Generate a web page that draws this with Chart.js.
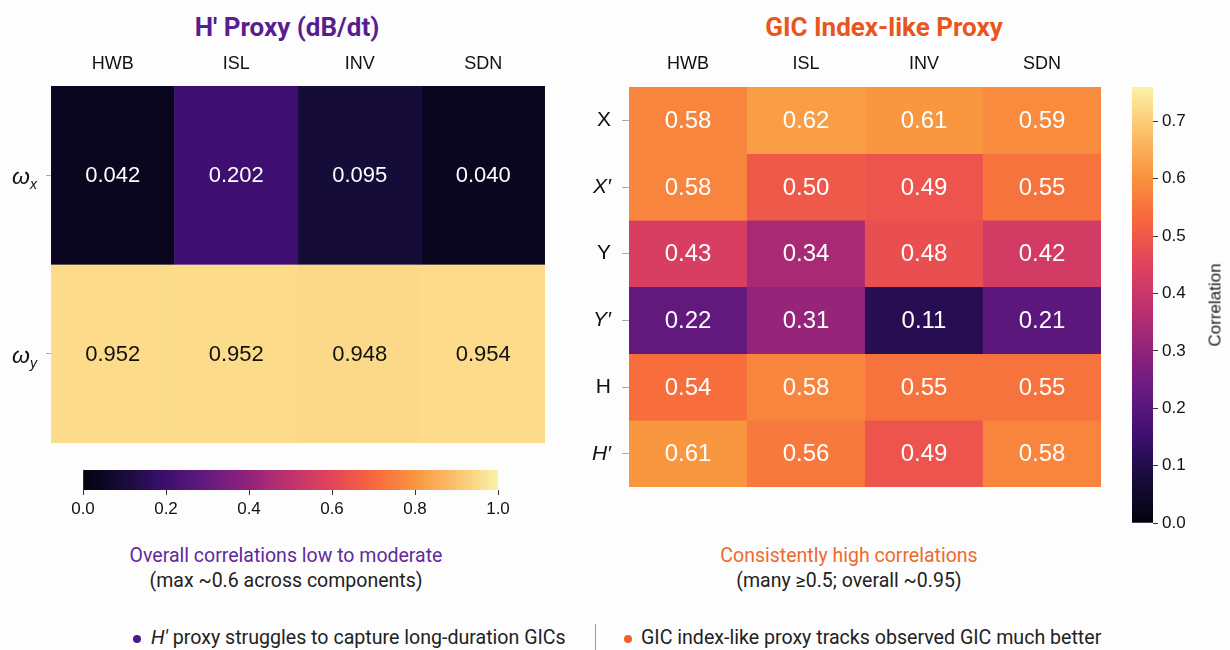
<!DOCTYPE html>
<html><head><meta charset="utf-8">
<script src="https://cdn.jsdelivr.net/npm/chart.js@4.4.1/dist/chart.umd.min.js"></script>
<style>
html,body{margin:0;padding:0;background:#fdfdfd;}
body{width:1230px;height:650px;position:relative;overflow:hidden;font-family:Roboto,'Noto Sans',sans-serif;color:#222;}
canvas{position:absolute;}
.t{position:absolute;white-space:nowrap;transform:translate(-50%,-50%);line-height:1;}
.l{position:absolute;white-space:nowrap;transform:translateY(-50%);line-height:1;font-size:19.6px;color:#222;}
.dot{position:absolute;width:8px;height:8px;border-radius:50%;transform:translate(-50%,-50%);}
</style></head><body>
<div class="t" style="left:287px;top:27px;font-weight:700;font-size:26px;color:#5a1d91;">H′ Proxy (dB/dt)</div>
<div class="t" style="left:884px;top:27px;font-weight:700;font-size:26px;color:#e8561e;">GIC Index-like Proxy</div>

<canvas id="hmL" width="570" height="420" style="left:0;top:40px;"></canvas>
<canvas id="cbL" width="470" height="70" style="left:60px;top:460px;"></canvas>
<canvas id="hmR" width="560" height="460" style="left:560px;top:40px;"></canvas>
<canvas id="cbR" width="120" height="470" style="left:1110px;top:70px;"></canvas>

<div class="t" style="left:1215px;top:305px;font-size:17px;font-family:'Liberation Sans',Arial,sans-serif;color:#1a1a1a;transform:translate(-50%,-50%) rotate(-90deg);">Correlation</div>

<div class="t" style="left:286px;top:556px;font-size:19.5px;color:#5e2a9e;">Overall correlations low to moderate</div>
<div class="t" style="left:286px;top:581px;font-size:19.5px;color:#222;">(max ~0.6 across components)</div>
<div class="t" style="left:849px;top:556px;font-size:19.5px;color:#ee6a2c;">Consistently high correlations</div>
<div class="t" style="left:849px;top:581px;font-size:19.5px;color:#222;">(many ≥0.5; overall ~0.95)</div>

<div class="dot" style="left:137px;top:639px;background:#4b1a8a;"></div>
<div class="l" style="left:151px;top:638px;"><i>H′</i> proxy struggles to capture long-duration GICs</div>
<div style="position:absolute;left:595px;top:624px;width:1px;height:26px;background:#999;"></div>
<div class="dot" style="left:628px;top:639px;background:#f2602a;"></div>
<div class="l" style="left:641px;top:638px;">GIC index-like proxy tracks observed GIC much better</div>

<script>
// ---- data ----
const leftCols = ['HWB', 'ISL', 'INV', 'SDN'];
const leftRowSubs = ['x', 'y'];
const leftVals = [
  [0.042, 0.202, 0.095, 0.040],
  [0.952, 0.952, 0.948, 0.954]
];
const rightCols = ['HWB', 'ISL', 'INV', 'SDN'];
const rightRows = ['X', 'X′', 'Y', 'Y′', 'H', 'H′'];
const rightVals = [
  [0.58, 0.62, 0.61, 0.59],
  [0.58, 0.50, 0.49, 0.55],
  [0.43, 0.34, 0.48, 0.42],
  [0.22, 0.31, 0.11, 0.21],
  [0.54, 0.58, 0.55, 0.55],
  [0.61, 0.56, 0.49, 0.58]
];
const leftRange = [0, 1];
const rightRange = [0, 0.76];
const leftCbTicks = [0, 0.2, 0.4, 0.6, 0.8, 1.0];
const rightCbTicks = [0, 0.1, 0.2, 0.3, 0.4, 0.5, 0.6, 0.7];

// ---- style ----
const FONT_TICK = "'Liberation Sans', Arial, sans-serif";
const STOPS = [[0,'#03020d'],[0.1,'#170c3a'],[0.2,'#3d0f70'],[0.3,'#661a80'],[0.4,'#92237a'],
  [0.5,'#c0326e'],[0.6,'#e3445a'],[0.7,'#f7683c'],[0.8,'#f9963f'],[0.9,'#fbc26c'],[1.0,'#fcf2a6']];
function hexToRgb(h){return [1,3,5].map(i=>parseInt(h.substr(i,2),16));}
function cmap(t){
  t = Math.max(0, Math.min(1, t));
  for (let i = 1; i < STOPS.length; i++) {
    if (t <= STOPS[i][0]) {
      const [t0,c0] = STOPS[i-1], [t1,c1] = STOPS[i];
      const f = (t - t0) / (t1 - t0);
      const a = hexToRgb(c0), b = hexToRgb(c1);
      return 'rgb(' + a.map((v,k)=>Math.round(v + (b[k]-v)*f)).join(',') + ')';
    }
  }
  return STOPS[STOPS.length-1][1];
}
Chart.defaults.font.family = FONT_TICK;

function heatDatasets(vals, range){
  return vals.map((row, r) => {
    const cols = row.map(v => cmap((v - range[0]) / (range[1] - range[0])));
    return { data: row.map(() => [r, r + 1]), backgroundColor: cols, borderColor: cols,
      borderWidth: 0.6, borderSkipped: false, barPercentage: 1, categoryPercentage: 1, grouped: false };
  });
}
function cellLabels(vals, digits, colorFn, size){
  return { id: 'cellLabels', afterDatasetsDraw(chart){
    const ctx = chart.ctx; ctx.save();
    ctx.font = size + 'px ' + FONT_TICK; ctx.textAlign = 'center'; ctx.textBaseline = 'middle';
    chart.data.datasets.forEach((ds, r) => {
      chart.getDatasetMeta(r).data.forEach((el, c) => {
        const v = vals[r][c];
        ctx.fillStyle = colorFn(v);
        ctx.fillText(v.toFixed(digits), el.x, (el.y + el.base) / 2 + 1);
      });
    });
    ctx.restore();
  }};
}
const omegaLabels = { id: 'omegaLabels', afterDraw(chart){
  const ctx = chart.ctx, y = chart.scales.y; ctx.save();
  ctx.fillStyle = '#111'; ctx.textBaseline = 'alphabetic';
  leftRowSubs.forEach((s, i) => {
    const py = y.getPixelForValue(i + 0.5);
    ctx.font = 'italic 23px ' + FONT_TICK; ctx.textAlign = 'right';
    ctx.fillText('ω', 30, py + 9);
    ctx.font = 'italic 14px ' + FONT_TICK; ctx.textAlign = 'left';
    ctx.fillText(s, 30, py + 14);
  });
  ctx.restore();
}};
function gradientFill(horizontal){
  return (context) => {
    const chart = context.chart, area = chart.chartArea;
    if (!area) return '#000';
    const g = horizontal ? chart.ctx.createLinearGradient(area.left, 0, area.right, 0)
                         : chart.ctx.createLinearGradient(0, area.bottom, 0, area.top);
    STOPS.forEach(([t, c]) => g.addColorStop(t, c));
    return g;
  };
}
const base = { responsive: false, animation: false, devicePixelRatio: 1,
  plugins: { legend: { display: false }, tooltip: { enabled: false } } };

// Left heatmap
new Chart(document.getElementById('hmL'), {
  type: 'bar',
  data: { labels: leftCols, datasets: heatDatasets(leftVals, leftRange) },
  options: Object.assign({}, base, {
    layout: { padding: { left: 0, right: 25, top: 0, bottom: 17 } },
    scales: {
      x: { position: 'top', grid: { display: false, drawTicks: false }, border: { display: false },
           ticks: { padding: 11, color: '#111', font: { size: 18 } }, afterFit: s => { s.height = 46; } },
      y: { type: 'linear', reverse: true, min: 0, max: leftVals.length,
           afterBuildTicks: a => { a.ticks = leftVals.map((_, i) => ({ value: i + 0.5 })); },
           grid: { drawOnChartArea: false, drawTicks: true, tickLength: 5, color: '#aaa' },
           border: { display: false }, ticks: { display: false },
           afterFit: s => { s.width = 51; s.paddingTop = 0; s.paddingBottom = 0; } }
    }
  }),
  plugins: [cellLabels(leftVals, 3, v => v > 0.7 ? '#111' : '#fff', 22), omegaLabels]
});

// Right heatmap
new Chart(document.getElementById('hmR'), {
  type: 'bar',
  data: { labels: rightCols, datasets: heatDatasets(rightVals, rightRange) },
  options: Object.assign({}, base, {
    layout: { padding: { left: 0, right: 19, top: 0, bottom: 13 } },
    scales: {
      x: { position: 'top', grid: { display: false, drawTicks: false }, border: { display: false },
           ticks: { padding: 12, color: '#111', font: { size: 18 } }, afterFit: s => { s.height = 47; } },
      y: { type: 'linear', reverse: true, min: 0, max: rightVals.length,
           afterBuildTicks: a => { a.ticks = rightRows.map((_, i) => ({ value: i + 0.5 })); },
           grid: { drawOnChartArea: false, drawTicks: true, tickLength: 7, color: '#aaa' },
           border: { display: false },
           ticks: { padding: 11, color: '#111', autoSkip: false,
             callback: (v, i) => rightRows[i],
             font: ctx => ({ size: 21, style: (rightRows[ctx.index] || '').includes('′') ? 'italic' : 'normal' }) },
           afterFit: s => { s.width = 69; s.paddingTop = 0; s.paddingBottom = 0; } }
    }
  }),
  plugins: [cellLabels(rightVals, 2, () => '#fff', 24)]
});

// Left colorbar (horizontal)
new Chart(document.getElementById('cbL'), {
  type: 'bar',
  data: { labels: ['cb'], datasets: [{ data: [leftRange], backgroundColor: gradientFill(true),
    borderWidth: 0, barPercentage: 1, categoryPercentage: 1 }] },
  options: Object.assign({}, base, {
    indexAxis: 'y',
    layout: { padding: { left: 23, right: 32, top: 10, bottom: 0 } },
    scales: {
      y: { display: false },
      x: { type: 'linear', position: 'bottom', min: leftRange[0], max: leftRange[1],
           afterBuildTicks: a => { a.ticks = leftCbTicks.map(v => ({ value: v })); },
           grid: { drawOnChartArea: false, drawTicks: true, tickLength: 5, color: '#333' },
           border: { display: false },
           ticks: { padding: 4, color: '#111', font: { size: 17 }, callback: v => Number(v).toFixed(1) },
           afterFit: s => { s.height = 40; s.paddingLeft = 0; s.paddingRight = 0; } }
    }
  })
});

// Right colorbar (vertical)
new Chart(document.getElementById('cbR'), {
  type: 'bar',
  data: { labels: ['cb'], datasets: [{ data: [rightRange], backgroundColor: gradientFill(false),
    borderWidth: 0, barPercentage: 1, categoryPercentage: 1 }] },
  options: Object.assign({}, base, {
    layout: { padding: { left: 22, right: 0, top: 17, bottom: 17 } },
    scales: {
      x: { display: false },
      y: { type: 'linear', position: 'right', min: rightRange[0], max: rightRange[1],
           afterBuildTicks: a => { a.ticks = rightCbTicks.map(v => ({ value: v })); },
           grid: { drawOnChartArea: false, drawTicks: true, tickLength: 5, color: '#333' },
           border: { display: false },
           ticks: { padding: 4, color: '#111', font: { size: 17 }, callback: v => Number(v).toFixed(1) },
           afterFit: s => { s.width = 77; } }
    }
  })
});
</script>
</body></html>
